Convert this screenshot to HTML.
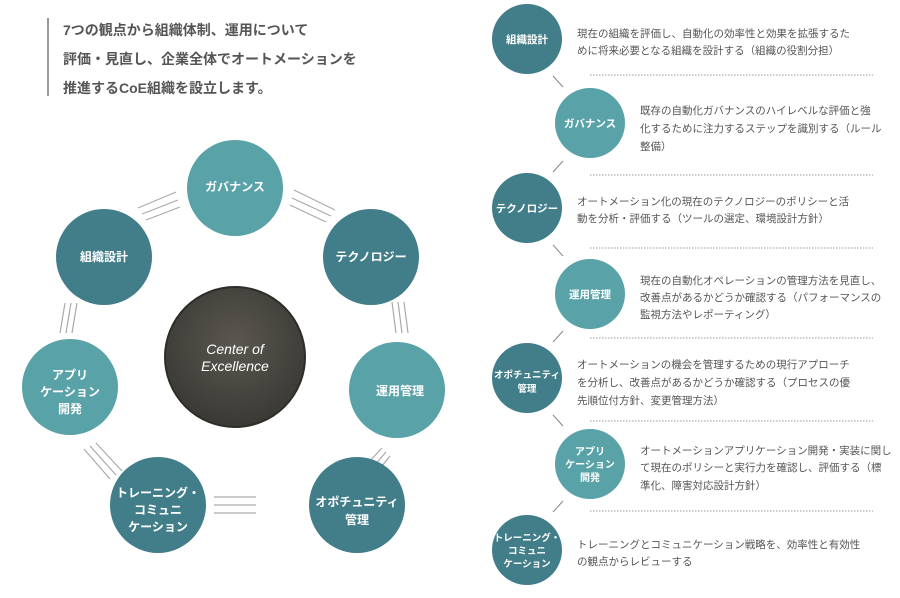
<!DOCTYPE html>
<html><head><meta charset="utf-8"><style>
body{margin:0;background:#fff;width:900px;height:593px;overflow:hidden}
svg text{font-family:"Liberation Sans","Noto Sans CJK JP",sans-serif}
</style></head><body>
<svg width="900" height="593" viewBox="0 0 900 593">
<defs><radialGradient id="g" cx="50%" cy="40%" r="60%"><stop offset="0" stop-color="#5a5750"/><stop offset="1" stop-color="#3b3934"/></radialGradient></defs>
<rect x="47" y="18" width="2" height="78" fill="#999"/>
<g font-size="14" fill="#555" font-weight="bold">
<text x="63" y="35">7つの観点から組織体制、運用について</text>
<text x="63" y="64">評価・見直し、企業全体でオートメーションを</text>
<text x="63" y="93">推進するCoE組織を設立します。</text>
</g>
<g stroke="#aaa" stroke-width="1.2" fill="none">
<path d="M138 208 L176 192 M142 214 L178 200 M146 220 L180 207"/>
<path d="M294 190 L335 210 M292 198 L331 216 M290 205 L326 222"/>
<path d="M392 302 L396 333 M398 302 L402 333 M404 302 L408 333"/>
<path d="M355 477 L382 448 M360 482 L386 452 M366 486 L390 456"/>
<path d="M214 497 L256 497 M214 505 L256 505 M214 513 L256 513"/>
<path d="M84 449 L110 479 M90 446 L116 475 M96 443 L122 471"/>
<path d="M60 333 L65 303 M66 333 L71 303 M72 333 L77 303"/>
</g>
<circle cx="235" cy="188" r="48" fill="#58a2a8"/>
<circle cx="371" cy="257" r="48" fill="#427e89"/>
<circle cx="397" cy="390" r="48" fill="#58a2a8"/>
<circle cx="357" cy="505" r="48" fill="#427e89"/>
<circle cx="158" cy="505" r="48" fill="#427e89"/>
<circle cx="70" cy="387" r="48" fill="#58a2a8"/>
<circle cx="104" cy="257" r="48" fill="#427e89"/>
<circle cx="235" cy="357" r="70" fill="url(#g)" stroke="#2f2d29" stroke-width="2"/>
<g font-size="12" fill="#fff" font-weight="bold" text-anchor="middle">
<text x="235" y="191">ガバナンス</text>
<text x="371" y="261">テクノロジー</text>
<text x="400" y="395">運用管理</text>
<text x="357" y="506">オポチュニティ</text><text x="357" y="524">管理</text>
<text x="158" y="497">トレーニング・</text><text x="158" y="514">コミュニ</text><text x="158" y="531">ケーション</text>
<text x="70" y="379">アプリ</text><text x="70" y="396">ケーション</text><text x="70" y="413">開発</text>
<text x="104" y="261">組織設計</text>
<text x="235" y="354" font-size="14" font-weight="normal" font-style="italic">Center of</text>
<text x="235" y="371" font-size="14" font-weight="normal" font-style="italic">Excellence</text>
</g>
<g stroke="#999" stroke-width="1" stroke-dasharray="1.5 1.5">
<path d="M590 75H873M590 175H873M590 248H873M590 338H873M590 421H873M590 511H873"/>
</g>
<g stroke="#888" stroke-width="1">
<path d="M553 76L563 87M563 161L553 172M553 245L563 256M563 331L553 342M553 415L563 426M563 501L553 512"/>
</g>
<g fill="#427e89"><circle cx="527" cy="39" r="35"/><circle cx="527" cy="208" r="35"/><circle cx="527" cy="378" r="35"/><circle cx="527" cy="550" r="35"/></g>
<g fill="#58a2a8"><circle cx="590" cy="123" r="35"/><circle cx="590" cy="294" r="35"/><circle cx="590" cy="464" r="35"/></g>
<g font-size="10.5" fill="#fff" font-weight="bold" text-anchor="middle">
<text x="527" y="43">組織設計</text>
<text x="590" y="127">ガバナンス</text>
<text x="527" y="212">テクノロジー</text>
<text x="590" y="298">運用管理</text>
<text x="527" y="378" font-size="9.5">オポチュニティ</text><text x="527" y="392" font-size="9.5">管理</text>
<text x="590" y="455" font-size="10">アプリ</text><text x="590" y="468" font-size="10">ケーション</text><text x="590" y="481" font-size="10">開発</text>
<text x="527" y="541" font-size="9.5">トレーニング・</text><text x="527" y="554" font-size="9.5">コミュニ</text><text x="527" y="567" font-size="9.5">ケーション</text>
</g>
<g font-size="10.5" fill="#555">
<text x="577" y="37">現在の組織を評価し、自動化の効率性と効果を拡張するた</text>
<text x="577" y="54">めに将来必要となる組織を設計する（組織の役割分担）</text>
<text x="640" y="114">既存の自動化ガバナンスのハイレベルな評価と強</text>
<text x="640" y="132">化するために注力するステップを識別する（ルール</text>
<text x="640" y="150">整備）</text>
<text x="577" y="205">オートメーション化の現在のテクノロジーのポリシーと活</text>
<text x="577" y="222">動を分析・評価する（ツールの選定、環境設計方針）</text>
<text x="640" y="284">現在の自動化オペレーションの管理方法を見直し、</text>
<text x="640" y="301">改善点があるかどうか確認する（パフォーマンスの</text>
<text x="640" y="318">監視方法やレポーティング）</text>
<text x="577" y="368">オートメーションの機会を管理するための現行アプローチ</text>
<text x="577" y="386">を分析し、改善点があるかどうか確認する（プロセスの優</text>
<text x="577" y="404">先順位付方針、変更管理方法）</text>
<text x="640" y="454">オートメーションアプリケーション開発・実装に関し</text>
<text x="640" y="471">て現在のポリシーと実行力を確認し、評価する（標</text>
<text x="640" y="489">準化、障害対応設計方針）</text>
<text x="577" y="548">トレーニングとコミュニケーション戦略を、効率性と有効性</text>
<text x="577" y="565">の観点からレビューする</text>
</g>
</svg>
</body></html>
